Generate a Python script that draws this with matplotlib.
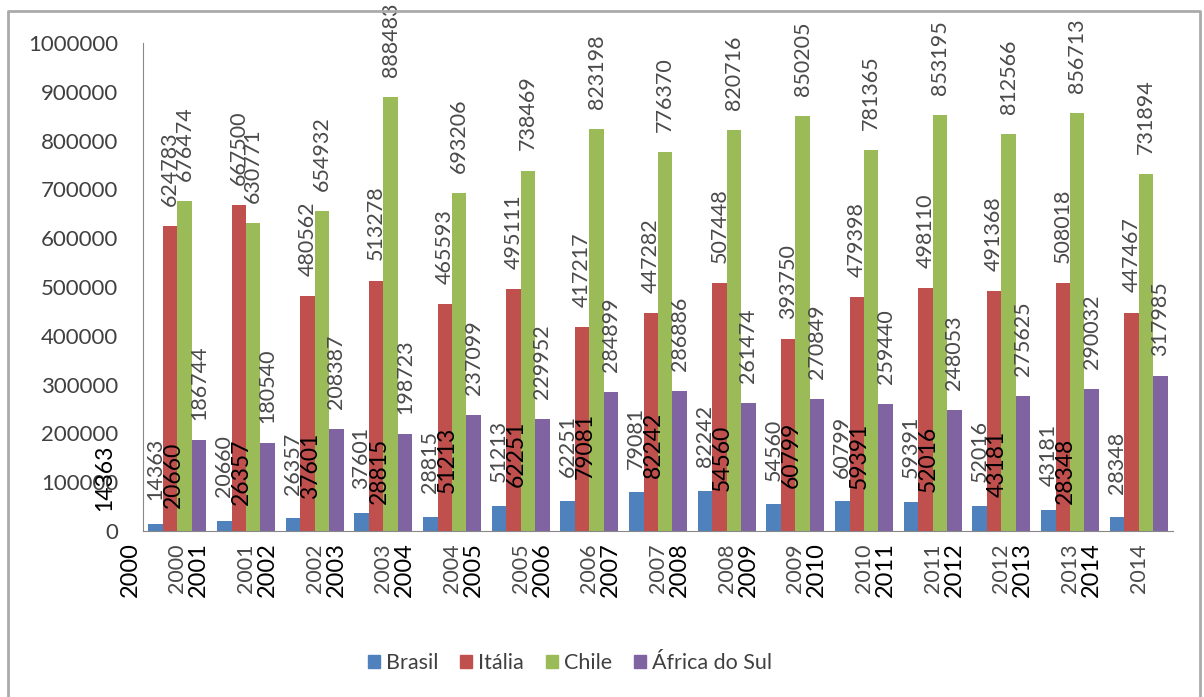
import numpy as np
import matplotlib.pyplot as plt
from matplotlib.lines import Line2D
from matplotlib.patches import Patch

plt.rcParams['font.family'] = ['Lato', 'DejaVu Sans']

years = [str(y) for y in range(2000, 2015)]
series = ["Brasil", "Itália", "Chile", "África do Sul"]
brasil = [14363, 20660, 26357, 37601, 28815, 51213, 62251, 79081, 82242, 54560, 60799, 59391, 52016, 43181, 28348]
italia = [624783, 667500, 480562, 513278, 465593, 495111, 417217, 447282, 507448, 393750, 479398, 498110, 491368, 508018, 447467]
chile = [676474, 630771, 654932, 888483, 693206, 738469, 823198, 776370, 820716, 850205, 781365, 853195, 812566, 856713, 731894]
africa = [186744, 180540, 208387, 198723, 237099, 229952, 284899, 286886, 261474, 270849, 259440, 248053, 275625, 290032, 317985]
colors = ['#4F81BD', '#C0504D', '#9BBB59', '#8064A2']

W, H = 1204, 697
fig = plt.figure(figsize=(W / 100, H / 100), dpi=100)
ax = fig.add_axes([143 / W, 1 - 531 / H, 1030 / W, 488 / H])

x = np.arange(len(years))
w = 0.211
data = [brasil, italia, chile, africa]
gray = '#4a4a4a'
for k, (vals, c) in enumerate(zip(data, colors)):
    xs = x + (k - 1.5) * w
    ax.bar(xs, vals, w, color=c, label=series[k])
    gap = 17 if k == 0 else 14.5
    for xi, v in zip(xs, vals):
        ax.annotate(str(v), (xi, v), xytext=(0, gap), textcoords='offset points',
                    rotation=90, ha='center', va='bottom', fontsize=15.5, color=gray)
        if k == 0:
            # second, shifted copy of the Brasil labels (black layer)
            ax.annotate(str(v), (xi, v), xytext=(-37, 9.5), textcoords='offset points',
                        rotation=90, ha='center', va='bottom', fontsize=16.5, color='black')

ax.set_xlim(-0.5, 14.5)
ax.set_ylim(0, 1000000)
ax.set_yticks(np.arange(0, 1000001, 100000))
ax.set_yticklabels([str(v) for v in range(0, 1000001, 100000)], fontsize=16, color='#404040')
ax.tick_params(axis='y', length=0, pad=18)
ax.set_xticks(x)
ax.set_xticklabels(years, rotation=90, fontsize=15.5, color=gray, va='top')
ax.tick_params(axis='x', length=0, pad=9)
for xi, yr in zip(x, years):
    # black duplicate of category labels, shifted left
    ax.annotate(yr, (xi, 0), xytext=(-34, -8), textcoords='offset points',
                rotation=90, ha='center', va='top', fontsize=17, color='black')

for s in ['top', 'right']:
    ax.spines[s].set_visible(False)
for s in ['left', 'bottom']:
    ax.spines[s].set_color('#888888')

handles = [Patch(color=c) for c in colors]
fig.legend(handles, series, loc='center', bbox_to_anchor=(570 / W, 1 - 663 / H), ncol=4,
           frameon=False, fontsize=15.5, handlelength=0.55, handleheight=0.55,
           handletextpad=0.3, columnspacing=1.0, labelcolor='#404040')

fig.add_artist(Line2D([8 / W, 8 / W, 1200 / W, 1200 / W], [0, 1 - 11 / H, 1 - 11 / H, 0],
                      transform=fig.transFigure, color='#aaaaaa', lw=2))

fig.savefig('out.png', dpi=100)
